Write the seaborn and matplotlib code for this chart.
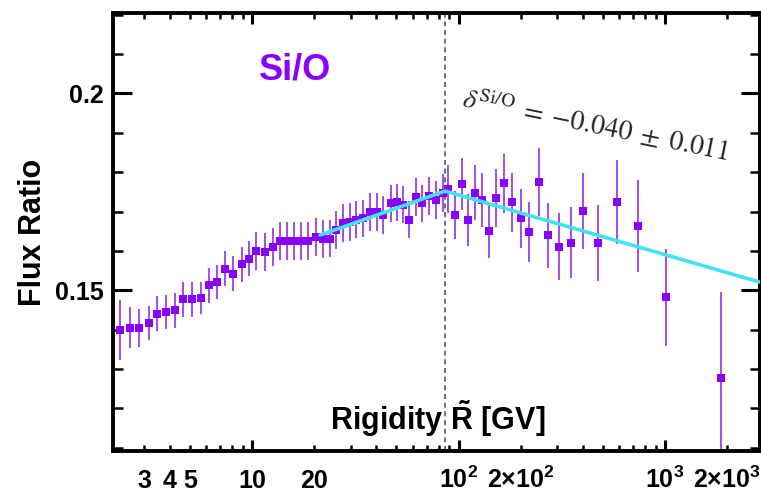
import matplotlib
matplotlib.use("Agg")
import matplotlib.pyplot as plt
import seaborn as sns
import numpy as np
import pandas as pd

# ---------------- data ----------------
rigidity = [2.30, 2.55, 2.84, 3.15, 3.48, 3.83, 4.24, 4.65, 5.12, 5.64,
            6.19, 6.79, 7.43, 8.12, 8.92, 9.70, 10.5, 11.6, 12.6, 13.7,
            14.8, 16.0, 17.3, 18.7, 20.3, 22.0, 23.9, 25.5, 27.7, 29.8,
            31.9, 34.4, 37.3, 40.2, 43.2, 47.0, 50.5, 54.0, 57.8, 62.3,
            66.3, 72.2, 77.8, 83.9, 89.3, 96.2, 103.6, 111.6, 120.2, 129.5,
            140.5, 152, 166, 182, 200, 220, 244, 272, 308, 349,
            402, 475, 584, 743, 1008, 1867]
ratio = [0.13983, 0.14052, 0.14042, 0.14169, 0.14408, 0.14448, 0.14492, 0.14771, 0.14771, 0.14804,
         0.15127, 0.15211, 0.15552, 0.15425, 0.15661, 0.15806, 0.15999, 0.15974, 0.16093, 0.16246,
         0.16246, 0.16246, 0.16246, 0.16253, 0.16355, 0.16296, 0.16314, 0.16525, 0.16711, 0.16736,
         0.16797, 0.16823, 0.16990, 0.16990, 0.16907, 0.17204, 0.17229, 0.17178, 0.16797, 0.17372,
         0.17204, 0.17389, 0.17288, 0.17473, 0.17567, 0.16907, 0.17687, 0.16797, 0.17473, 0.17288,
         0.16507, 0.17346, 0.17712, 0.17229, 0.16830, 0.16482, 0.17753, 0.16398, 0.16101, 0.16213,
         0.17016, 0.16202, 0.17245, 0.16627, 0.14822, 0.12781]
ratio_err = [0.0076, 0.0052, 0.0048, 0.0044, 0.0044, 0.0044, 0.0044, 0.0044, 0.0044, 0.0040,
             0.0044, 0.0044, 0.0044, 0.0044, 0.0044, 0.0044, 0.0048, 0.0048, 0.0048, 0.0048,
             0.0048, 0.0048, 0.0048, 0.0048, 0.0048, 0.0048, 0.0048, 0.0048, 0.0048, 0.0048,
             0.0048, 0.0048, 0.0048, 0.0048, 0.0048, 0.0048, 0.0048, 0.0048, 0.0048, 0.0048,
             0.0048, 0.0048, 0.0048, 0.0048, 0.0061, 0.0061, 0.0066, 0.0066, 0.0070, 0.0068,
             0.0069, 0.0073, 0.0074, 0.0074, 0.0075, 0.0076, 0.0086, 0.0082, 0.0085, 0.0089,
             0.0097, 0.0097, 0.0106, 0.0117, 0.0123, 0.0218]

fit_rigidity = [21.3, 86.0, 3000.0]
fit_ratio = [0.1640, 0.1752, 0.1518]
break_rigidity = 86.0

x_major_ticks = [10, 100, 1000]
x_major_labels = ["10", r"$10^{2}$", r"$10^{3}$"]
x_minor_ticks = [3, 4, 5, 6, 7, 8, 9, 20, 30, 40, 50, 60, 70, 80, 90,
                 200, 300, 400, 500, 600, 700, 800, 900, 2000]
x_minor_labels = ["3", "4", "5", "", "", "", "", "20", "", "", "", "", "", "", "",
                  r"$2{\times}10^{2}$", "", "", "", "", "", "", "", r"$2{\times}10^{3}$"]
y_major_ticks = [0.15, 0.2]
y_major_labels = ["0.15", "0.2"]
y_minor_ticks = [0.11, 0.12, 0.13, 0.14, 0.16, 0.17, 0.18, 0.19, 0.21, 0.22]

annotation = r"$\delta^{\mathrm{Si/O}}\;=\;{-}0.040\;\pm\;0.011$"
ratio_name = "Si/O"

df = pd.DataFrame({"R": rigidity, "ratio": ratio, "err": ratio_err})
fit_df = pd.DataFrame({"R": fit_rigidity, "ratio": fit_ratio})

# ---------------- style ----------------
sns.set_theme(style="ticks")
plt.rcParams["font.family"] = ["Liberation Sans", "DejaVu Sans"]
plt.rcParams["font.weight"] = "normal"
plt.rcParams["text.color"] = "black"
plt.rcParams["axes.labelcolor"] = "black"
plt.rcParams["xtick.color"] = "black"
plt.rcParams["ytick.color"] = "black"
plt.rcParams["mathtext.fontset"] = "custom"
plt.rcParams["mathtext.rm"] = "Liberation Sans:bold"
plt.rcParams["mathtext.bf"] = "Liberation Sans:bold"
plt.rcParams["mathtext.it"] = "Liberation Sans:bold:italic"
plt.rcParams["mathtext.sf"] = "Liberation Sans:bold"

purple = "#8A00FF"
err_purple = "#9C3FE0"
cyan = "#42E2F2"

fig = plt.figure(figsize=(7.61, 4.92), dpi=100)
ax = fig.add_axes([113 / 761, 1 - 451 / 492, 647 / 761, 438 / 492])
ax.set_facecolor("white")

ax.set_xscale("log")

ax.axvline(break_rigidity, color="#5a5a5a", linestyle=(0, (3.0, 2.2)),
           linewidth=1.2, zorder=1)

ax.errorbar(df["R"], df["ratio"], yerr=df["err"], fmt="none",
            ecolor=err_purple, elinewidth=1.3, capsize=0, zorder=2)
sns.scatterplot(data=df, x="R", y="ratio", marker="s", s=40, color=purple,
                linewidth=0, ax=ax, zorder=3)
sns.lineplot(data=fit_df, x="R", y="ratio", color=cyan, linewidth=2.6,
             sort=False, estimator=None, ax=ax, zorder=4)

ax.set_xlim(2.12, 2884)
ax.set_ylim(0.1092, 0.2204)

# ticks
ax.set_xticks(x_major_ticks, x_major_labels)
ax.set_xticks(x_minor_ticks, x_minor_labels, minor=True)
ax.set_yticks(y_major_ticks, y_major_labels)
ax.set_yticks(y_minor_ticks, minor=True)

ax.tick_params(axis="both", which="both", direction="in", top=True, right=True,
               colors="black", labelcolor="black", labelsize=18)
ax.tick_params(axis="x", which="major", length=8, width=2.2, pad=26.5)
ax.tick_params(axis="x", which="minor", length=4, width=1.8, pad=26.5)
ax.tick_params(axis="y", which="major", length=14, width=2.2, pad=7)
ax.tick_params(axis="y", which="minor", length=7.5, width=1.8, pad=7)
for t in ax.xaxis.get_major_ticks() + ax.xaxis.get_minor_ticks():
    t.label1.set_verticalalignment("baseline")
    t.label1.set_fontweight("bold")
for t in ax.yaxis.get_major_ticks():
    t.label1.set_fontweight("bold")

for sp in ax.spines.values():
    sp.set_linewidth(2.8)
    sp.set_color("black")
    sp.set_visible(True)

ax.set_ylabel("Flux Ratio", fontsize=22, fontweight="bold", color="black")
ax.yaxis.set_label_coords(-0.10, 0.5)
ax.set_xlabel(r"Rigidity $\tilde{\mathrm{R}}$ [GV]", fontsize=22,
              fontweight="bold", color="black")
ax.xaxis.set_label_coords(0.502, 0.12)

ax.text(16.1, 0.2036, ratio_name, color=purple, fontsize=26, fontweight="bold",
        ha="center", va="baseline", zorder=5)
ax.text(102.8, 0.1965, annotation, color="#262626", fontsize=20,
        fontweight="normal", math_fontfamily="stix", rotation=-11.5,
        rotation_mode="anchor", ha="left", va="baseline", zorder=5)

fig.savefig("out.png", dpi=100, facecolor="white")
